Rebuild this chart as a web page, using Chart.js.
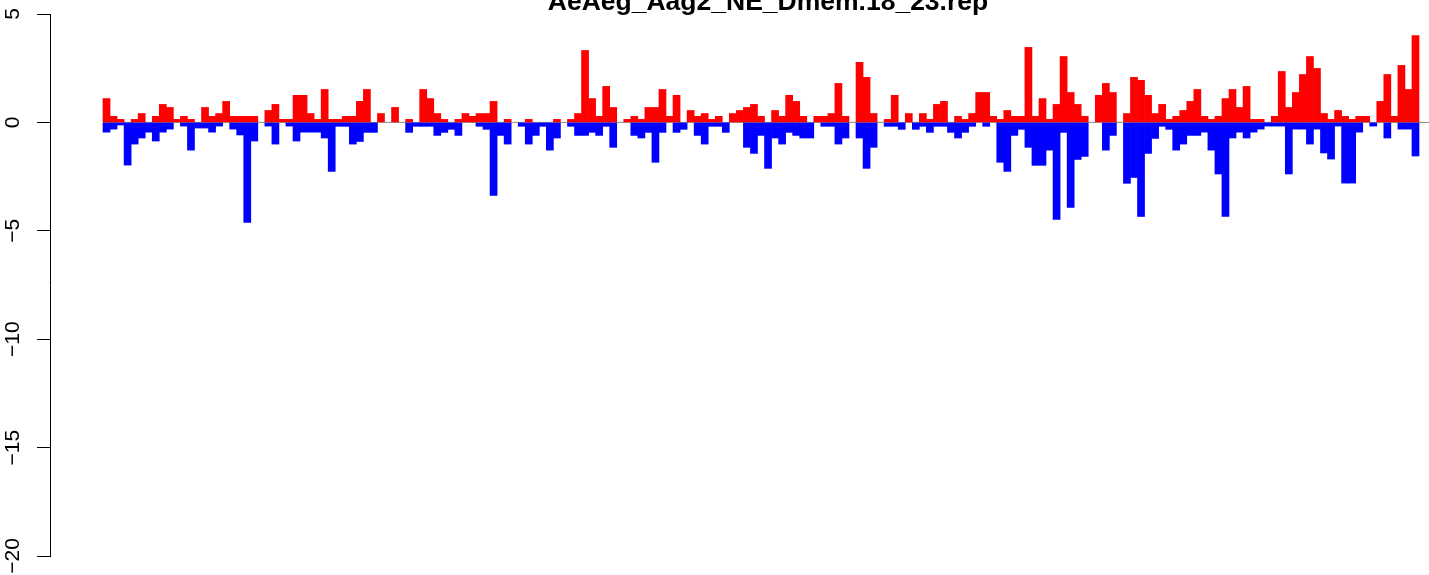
<!DOCTYPE html>
<html>
<head>
<meta charset="utf-8">
<title>AeAeg_Aag2_NE_Dmem.18_23.rep</title>
<script src="https://cdn.jsdelivr.net/npm/chart.js@4.4.1/dist/chart.umd.min.js"></script>
<style>
  html, body { margin: 0; padding: 0; background: #fff; overflow: hidden; }
  #wrap { position: relative; width: 1429px; height: 575px; }
</style>
</head>
<body>
<div id="wrap"><canvas id="chart" width="1429" height="575"></canvas></div>
<script>
// ── Data ────────────────────────────────────────────────────────
const chartTitle = 'AeAeg_Aag2_NE_Dmem.18_23.rep';

// red bars, above zero
const upValues = [
  1.1, 0.28, 0.14, 0, 0.14, 0.41, 0, 0.28, 0.83, 0.69,
  0.14, 0.28, 0.14, 0, 0.69, 0.28, 0.41, 0.97, 0.28, 0.28,
  0.28, 0.28, 0, 0.55, 0.83, 0.14, 0.14, 1.25, 1.25, 0.41,
  0.14, 1.52, 0.14, 0.14, 0.28, 0.28, 0.97, 1.52, 0, 0.41,
  0, 0.69, 0, 0.14, 0, 1.52, 1.1, 0.41, 0.14, 0,
  0.14, 0.41, 0.28, 0.41, 0.41, 0.97, 0, 0.14, 0, 0,
  0.14, 0, 0, 0, 0.14, 0, 0.14, 0.41, 3.32, 1.1,
  0.28, 1.66, 0.69, 0, 0.14, 0.28, 0.14, 0.69, 0.69, 1.52,
  0.28, 1.25, 0, 0.55, 0.28, 0.41, 0.14, 0.28, 0, 0.41,
  0.55, 0.69, 0.83, 0.28, 0, 0.55, 0.28, 1.25, 0.97, 0.28,
  0, 0.28, 0.28, 0.41, 1.8, 0.28, 0, 2.77, 2.08, 0.41,
  0, 0.14, 1.25, 0, 0.41, 0, 0.41, 0.14, 0.83, 0.97,
  0, 0.28, 0.14, 0.41, 1.38, 1.38, 0.28, 0.14, 0.55, 0.28,
  0.28, 3.46, 0.28, 1.1, 0.14, 0.83, 3.04, 1.38, 0.83, 0.28,
  0, 1.25, 1.8, 1.38, 0, 0.41, 2.08, 1.94, 1.25, 0.41,
  0.83, 0.14, 0.28, 0.55, 0.97, 1.52, 0.28, 0.14, 0.28, 1.1,
  1.52, 0.69, 1.66, 0.14, 0.14, 0, 0.28, 2.35, 0.69, 1.38,
  2.21, 3.04, 2.49, 0.41, 0.14, 0.55, 0.28, 0.14, 0.28, 0.28,
  0, 0.97, 2.21, 0.28, 2.63, 1.52, 4.01
];

// blue bars, below zero
const downValues = [
  -0.45, -0.31, -0.12, -1.97, -1.0, -0.72, -0.45, -0.86, -0.45, -0.31,
  0, -0.17, -1.28, -0.26, -0.26, -0.45, -0.17, 0, -0.31, -0.58,
  -4.61, -0.86, 0, -0.17, -1.0, 0, -0.17, -0.86, -0.45, -0.45,
  -0.45, -0.72, -2.26, -0.18, -0.18, -1.0, -0.88, -0.46, -0.46, 0,
  0, 0, 0, -0.46, -0.18, -0.18, -0.18, -0.6, -0.46, -0.32,
  -0.6, 0, 0, -0.18, -0.32, -3.37, -0.6, -1.0, 0, -0.18,
  -1.0, -0.6, -0.18, -1.28, -0.72, 0, -0.18, -0.6, -0.6, -0.46,
  -0.6, -0.18, -1.15, 0, 0, -0.6, -0.72, -0.46, -1.84, -0.46,
  0, -0.46, -0.32, 0, -0.6, -1.0, -0.18, -0.18, -0.46, 0,
  0, -1.15, -1.43, -0.6, -2.12, -0.72, -1.0, -0.46, -0.6, -0.72,
  -0.72, 0, -0.18, -0.18, -1.0, -0.72, 0, -0.72, -2.12, -1.15,
  0, -0.18, -0.18, -0.32, 0, -0.32, -0.18, -0.46, -0.18, -0.18,
  -0.46, -0.72, -0.46, -0.18, 0, -0.18, 0, -1.84, -2.26, -0.6,
  -0.32, -1.15, -1.98, -1.98, -1.28, -4.47, -0.46, -3.92, -1.71, -1.57,
  0, 0, -1.28, -0.6, 0, -2.81, -2.54, -4.34, -1.43, -0.74,
  -0.18, -0.32, -1.28, -1.0, -0.6, -0.6, -0.45, -1.28, -2.38, -4.34,
  -0.72, -0.45, -0.72, -0.45, -0.31, -0.17, -0.17, -0.17, -2.38, -0.31,
  -0.31, -1.0, -0.31, -1.41, -1.69, -0.17, -2.8, -2.8, -0.45, 0,
  -0.17, 0, -0.72, 0, -0.31, -0.31, -1.55
];

const yTicks = [5, 0, -5, -10, -15, -20];

// bar positions along x are just the running index
const positions = upValues.map((_, i) => i);
const toPoints = vals => vals.map((v, i) => ({ x: positions[i], y: v === 0 ? null : v }));

// ── Plugins ─────────────────────────────────────────────────────
const FONT = '"Liberation Sans", Arial, Helvetica, sans-serif';

// grey zero line, starts at the first bar
const zeroLine = {
  id: 'zeroLine',
  beforeDatasetsDraw(chart) {
    const { ctx, chartArea, scales } = chart;
    const y = scales.y.getPixelForValue(0);
    const x0 = scales.x.getPixelForValue(positions[0] - 0.5);
    ctx.save();
    ctx.strokeStyle = '#8a8a8a';
    ctx.lineWidth = 1;
    ctx.beginPath();
    ctx.moveTo(x0, y);
    ctx.lineTo(chartArea.right, y);
    ctx.stroke();
    ctx.restore();
  }
};

// R-style rotated tick labels + cut-off title
const rLabels = {
  id: 'rLabels',
  afterDraw(chart) {
    const { ctx, scales } = chart;
    ctx.save();
    ctx.fillStyle = '#000';
    ctx.font = '21px ' + FONT;
    ctx.textAlign = 'center';
    ctx.textBaseline = 'middle';
    yTicks.forEach(v => {
      const y = scales.y.getPixelForValue(v);
      const txt = v < 0 ? '\u2212' + Math.abs(v) : String(v);
      ctx.save();
      ctx.translate(13, y);
      ctx.rotate(-Math.PI / 2);
      ctx.fillText(txt, 0, 0);
      ctx.restore();
    });
    ctx.font = 'bold 26.5px ' + FONT;
    ctx.textBaseline = 'alphabetic';
    ctx.fillText(chartTitle, 768, 10);
    ctx.restore();
  }
};

// ── Chart ───────────────────────────────────────────────────────
new Chart(document.getElementById('chart'), {
  type: 'bar',
  data: {
    datasets: [
      {
        label: 'up',
        data: toPoints(upValues),
        backgroundColor: '#ff0000',
        borderWidth: 0,
        barPercentage: 1,
        categoryPercentage: 1,
      },
      {
        label: 'down',
        data: toPoints(downValues),
        backgroundColor: '#0000ff',
        borderWidth: 0,
        barPercentage: 1,
        categoryPercentage: 1,
      }
    ]
  },
  options: {
    responsive: false,
    animation: false,
    devicePixelRatio: 1,
    layout: { padding: { left: 37, right: 0, top: 14, bottom: 19 } },
    plugins: {
      legend: { display: false },
      tooltip: { enabled: false },
      title: { display: false }
    },
    scales: {
      x: {
        type: 'linear',
        display: false,
        stacked: true,
        offset: false,
        min: -8.03,
        max: 187.92
      },
      y: {
        stacked: true,
        min: -20,
        max: 5,
        border: { display: true, color: '#000', width: 1 },
        grid: { drawOnChartArea: false, drawTicks: true, tickLength: 13, color: '#000', tickWidth: 1 },
        ticks: { display: false, stepSize: 5 }
      }
    }
  },
  plugins: [zeroLine, rLabels]
});
</script>
</body>
</html>
